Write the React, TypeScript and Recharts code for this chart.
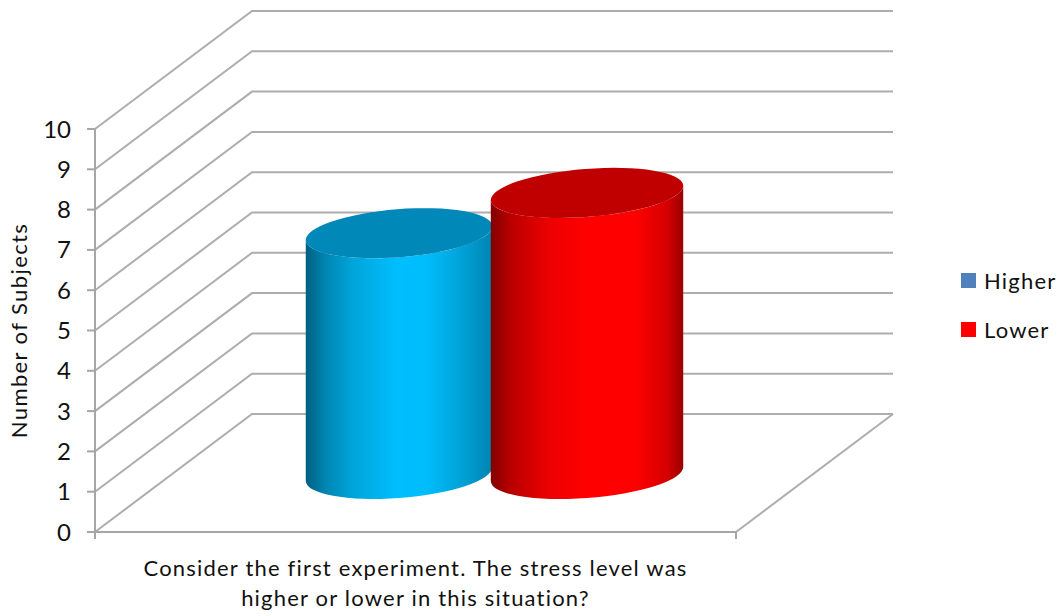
import { Bar, BarChart, CartesianGrid, Legend, XAxis, YAxis } from "recharts";

const CATEGORIES = ["Consider the first experiment. The stress level was\nhigher or lower in this situation?"];
const HIGHER = [6];
const LOWER = [7];
const Y_TICKS = [0, 1, 2, 3, 4, 5, 6, 7, 8, 9, 10];

const data = CATEGORIES.map((name, i) => ({ name, Higher: HIGHER[i], Lower: LOWER[i] }));

const FONT = "Lato, 'Open Sans', sans-serif";
const GRID = "#adadad";
const AXIS = "#a6a6a6";

// offset of the back wall from the axis plane, bars stand half way in
const DEPTH_X = 157;
const DEPTH_Y = -118;
const BAR_X = 77;
const BAR_Y = -57;

const BLUE = {
  cap: "#0088b8",
  grow: -0.5,
  stops: [
    [0, "#005f80"],
    [0.1, "#0084b0"],
    [0.25, "#00a4da"],
    [0.5, "#00bfff"],
    [0.65, "#00bcfb"],
    [0.85, "#00a0d4"],
    [1, "#0084b0"],
  ],
};
const RED = {
  cap: "#c00000",
  grow: 2.5,
  stops: [
    [0, "#800000"],
    [0.1, "#b80000"],
    [0.3, "#ec0000"],
    [0.5, "#ff0000"],
    [0.75, "#ff0000"],
    [0.92, "#d40000"],
    [1, "#990000"],
  ],
};

const Cylinder = ({ x, y, width, height, look, id }: any) => {
  const a = width / 2 + look.grow;
  const b = 24;
  const tilt = (-4.5 * Math.PI) / 180;
  const cx = x + width / 2 + BAR_X;
  const top = y + BAR_Y;
  const bottom = y + height + BAR_Y - 1;
  const sin = Math.sin(tilt);
  const cos = Math.cos(tilt);
  const w = Math.sqrt(a * a * cos * cos + b * b * sin * sin);
  const s = ((a * a - b * b) * sin * cos) / w;
  const deg = (tilt * 180) / Math.PI;
  const body = [
    `M${cx - w},${top - s}`,
    `L${cx - w},${bottom - s}`,
    `A${a},${b} ${deg} 0 0 ${cx + w},${bottom + s}`,
    `L${cx + w},${top + s}`,
    `A${a},${b} ${deg} 0 1 ${cx - w},${top - s}`,
    "Z",
  ].join(" ");
  return (
    <g>
      <defs>
        <linearGradient id={id} x1="0" y1="0" x2="1" y2="0">
          {look.stops.map(([o, c]: any) => (
            <stop key={o} offset={o} stopColor={c} />
          ))}
        </linearGradient>
      </defs>
      <path d={body} fill={`url(#${id})`} />
      <ellipse cx={cx} cy={top} rx={a} ry={b} fill={look.cap} transform={`rotate(${deg} ${cx} ${top})`} />
    </g>
  );
};

const WallLine = ({ x1, x2, y1 }: any) => (
  <polyline
    fill="none"
    stroke={GRID}
    strokeWidth={2}
    points={`${x1},${y1} ${x1 + DEPTH_X},${y1 + DEPTH_Y} ${x2 + DEPTH_X},${y1 + DEPTH_Y}`}
  />
);

const Floor = ({ x1, x2, y1 }: any) => (
  <g fill="none" stroke={GRID} strokeWidth={2}>
    <line x1={x2} y1={y1} x2={x2 + DEPTH_X} y2={y1 + DEPTH_Y} />
    <line x1={x1} y1={y1} x2={x1} y2={y1 + 7} stroke={AXIS} />
    <line x1={x2} y1={y1} x2={x2} y2={y1 + 7} stroke={AXIS} />
  </g>
);

const gridLine = (props: any) => (
  <g key={props.key ?? props.y1}>
    <WallLine {...props} />
    {props.y1 > 530 ? <Floor {...props} /> : null}
  </g>
);

const CategoryTick = ({ x, payload }: any) => (
  <text x={x} textAnchor="middle" fontFamily={FONT} fontSize={22} fill="#111" letterSpacing={1.2}>
    {String(payload.value)
      .split("\n")
      .map((line, i) => (
        <tspan key={line} x={x} y={576 + i * 30}>
          {line}
        </tspan>
      ))}
  </text>
);

const LegendBox = ({ payload }: any) => (
  <div style={{ fontFamily: FONT, fontSize: 22, color: "#111", letterSpacing: 1.2 }}>
    {(payload ?? []).map((item: any) => (
      <div key={item.value} style={{ display: "flex", alignItems: "center", height: 49 }}>
        <span style={{ width: 15, height: 15, background: item.color, marginRight: 8 }} />
        {item.value}
      </div>
    ))}
  </div>
);

export default function App() {
  return (
    <div style={{ position: "absolute", left: 0, top: 0, width: 1061, height: 616, background: "#fff" }}>
      <BarChart
        width={1061}
        height={616}
        data={data}
        margin={{ top: 129, right: 225, bottom: 0, left: 0 }}
        barCategoryGap={133}
        barGap={0}
      >
        <CartesianGrid vertical={false} horizontal={gridLine} />
        <XAxis
          dataKey="name"
          height={84}
          axisLine={{ stroke: AXIS, strokeWidth: 2 }}
          tickLine={false}
          tick={CategoryTick}
          interval={0}
        />
        <YAxis
          width={95}
          domain={[0, 10]}
          ticks={Y_TICKS}
          interval={0}
          axisLine={{ stroke: AXIS, strokeWidth: 2 }}
          tickLine={{ stroke: AXIS, strokeWidth: 2 }}
          tickSize={8}
          tickMargin={16}
          tick={{ fontFamily: FONT, fontSize: 24, fill: "#111" }}
          label={{
            value: "Number of Subjects",
            angle: -90,
            position: "insideLeft",
            offset: 19,
            style: { fontFamily: FONT, fontSize: 22, fill: "#111", textAnchor: "middle", letterSpacing: 1.4 },
          }}
        />
        <Bar
          dataKey="Higher"
          fill="#4f81bd"
          isAnimationActive={false}
          shape={(p: any) => <Cylinder {...p} look={BLUE} id="cylHigher" />}
        />
        <Bar
          dataKey="Lower"
          fill="#ff0000"
          isAnimationActive={false}
          shape={(p: any) => <Cylinder {...p} look={RED} id="cylLower" />}
        />
        <Legend
          layout="vertical"
          align="right"
          verticalAlign="top"
          content={LegendBox}
          wrapperStyle={{ left: 961, top: 256, width: 100 }}
        />
      </BarChart>
    </div>
  );
}
